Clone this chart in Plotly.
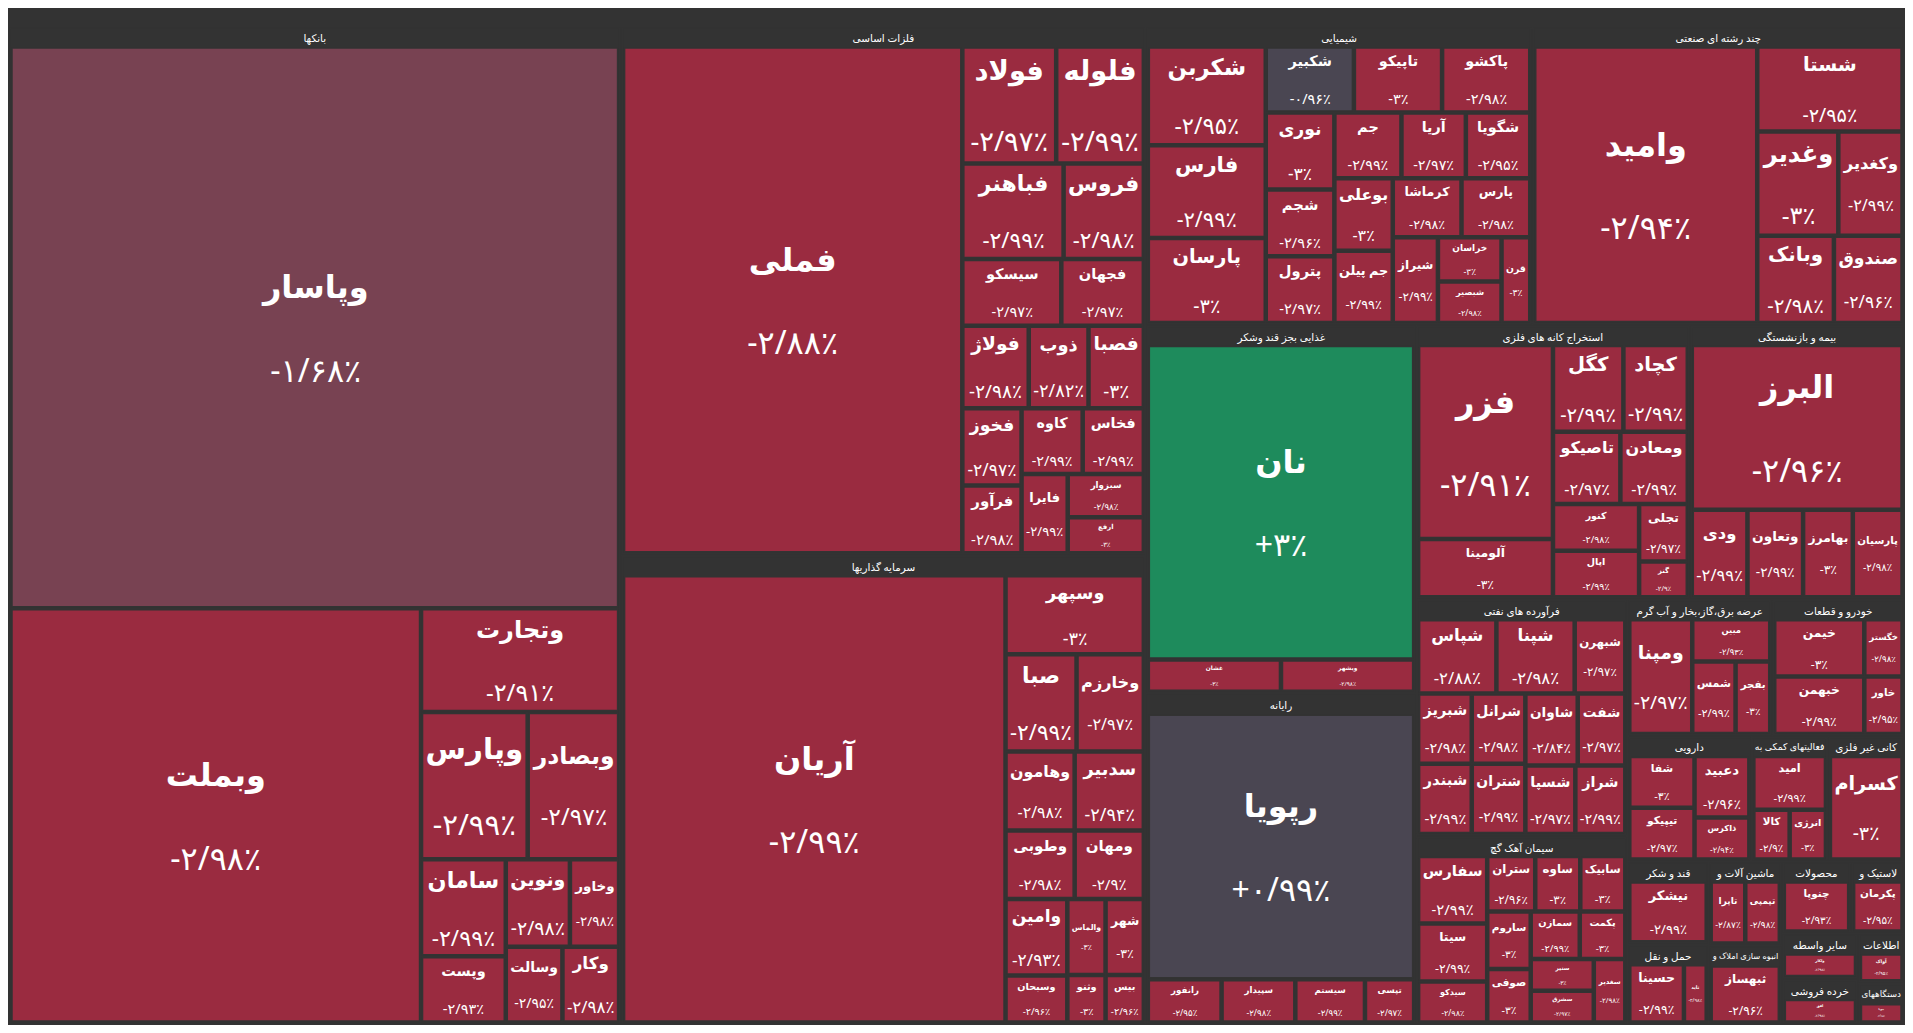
import plotly.graph_objects as go

# sector of each ticker, market size (relative), daily change %
sectors = [
    "بانکها", "فلزات اساسی", "سرمایه گذاریها", "چند رشته ای صنعتی", "رایانه",
    "شیمیایی", "غذایی بجز قند وشکر", "بیمه و بازنشستگی", "استخراج کانه های فلزی",
    "سیمان آهک گچ", "فرآورده های نفتی", "خودرو و قطعات", "فعالیتهای کمکی به",
    "قند و شکر", "حمل و نقل", "عرضه برق،گاز،بخار و آب گرم", "دارویی",
    "کانی غیر فلزی", "محصولات", "لاستیک و", "سایر واسطه", "انبوه سازی املاک و",
    "ماشین آلات و", "دستگاههای", "خرده فروشی", "اطلاعات",
]

tickers = [
    "وپاسار", "وبملت", "وتجارت", "وپارس", "وبصادر", "سامان", "وپست", "وخاور", "وسالت", "ونوین", "وکار",
    "فملی", "فولاد", "فلوله", "فباهنر", "فروس", "فجهان", "فولاژ", "فصبا", "فخوز", "فرآور", "کاوه", "سبزوار", "سیسکو", "فایرا", "ارفع", "ذوب", "فخاس",
    "آریان", "وسپهر", "صبا", "وخارزم", "وهامون", "سدبیر", "وطوبی", "ومهان", "وامین", "وسبحان", "والماس", "شهر", "وثنو", "بیس",
    "وامید", "شستا", "وغدیر", "وکغدیر", "وبانک", "صندوق",
    "رپویا", "رانفور", "سپیدار", "سیستم", "تپسی",
    "شکربن", "شکبیر", "شجم", "پترول", "آریا", "شگویا", "فارس", "پارسان", "تاپیکو", "کرماشا", "جم", "بوعلی", "جم پیلن", "پاکشو", "پارس", "خراسان", "شبصیر", "نوری", "شیراز", "قرن",
    "نان", "غشان", "وبشهر",
    "البرز", "ودی", "وتعاون", "بهامرز", "پارسیان",
    "فزر", "آلومینا", "کگل", "کچاد", "کنور", "اپال", "تاصیکو", "ومعادن", "تجلی", "گنز",
    "سفارس", "سیتا", "ستران", "صوفی", "سیدکو", "سمازن", "پکمت", "سنیر", "سشرق", "سغدیر", "ساوه", "سابیک", "ساروم",
    "شپاس", "شپنا", "شبهرن", "شبریز", "شبندر", "شرانل", "شتران", "شاوان", "شفت", "شسپا", "شراز",
    "خیمن", "خبهمن", "خگستر", "خاور",
    "امید", "کالا", "انرژی",
    "نیشکر",
    "حسینا", "تاید",
    "ومپنا", "مبین", "بفجر", "شمس",
    "شفا", "تیپیکو", "دعبید", "ذاکرس",
    "کسرام",
    "چنوپا",
    "پکرمان",
    "ولکار",
    "ثبهساز",
    "تاپرا", "تپمپی",
    "بپویا",
    "افق",
    "آواک",
]

ticker_sector = (
    ["بانکها"] * 11 + ["فلزات اساسی"] * 17 + ["سرمایه گذاریها"] * 14
    + ["چند رشته ای صنعتی"] * 6 + ["رایانه"] * 5 + ["شیمیایی"] * 20
    + ["غذایی بجز قند وشکر"] * 3 + ["بیمه و بازنشستگی"] * 5
    + ["استخراج کانه های فلزی"] * 10 + ["سیمان آهک گچ"] * 13
    + ["فرآورده های نفتی"] * 11 + ["خودرو و قطعات"] * 4
    + ["فعالیتهای کمکی به"] * 3 + ["قند و شکر"] + ["حمل و نقل"] * 2
    + ["عرضه برق،گاز،بخار و آب گرم"] * 4 + ["دارویی"] * 4
    + ["کانی غیر فلزی"] + ["محصولات"] + ["لاستیک و"] + ["سایر واسطه"]
    + ["انبوه سازی املاک و"] + ["ماشین آلات و"] * 2 + ["دستگاههای"]
    + ["خرده فروشی"] + ["اطلاعات"]
)

sizes = [
    183, 91, 11, 8.4, 7.2, 4.4, 3, 2.3, 2.3, 3, 2.3,
    94, 6, 5.6, 5.3, 4.2, 3, 3, 2.5, 2.5, 2.2, 2.2, 1.8, 3.6, 2, 1.5, 2.7, 2.2,
    94, 6, 3.8, 3.6, 3, 3, 2.6, 2.6, 2.6, 1.6, 1.6, 1.6, 1, 1,
    35, 7, 4.8, 3.8, 3.8, 3.4,
    40, 1.8, 1.8, 1.7, 1.2,
    6.6, 3.3, 2.6, 2.6, 2.4, 2.4, 6.2, 5.7, 3.3, 2.3, 2.5, 2.4, 2.4, 3.3, 2.3, 1.6, 1.5, 3, 2.2, 1.4,
    47, 2.4, 2.4,
    20, 2.8, 2.8, 2.5, 2.5,
    15, 4.5, 3.5, 3.2, 2.3, 2.3, 2.8, 2.8, 1.6, 1,
    2.8, 2.4, 1.6, 1.4, 1.7, 1.4, 1.3, 1.2, 1.2, 1.2, 1.5, 1.5, 1.5,
    3.4, 3.4, 2.2, 2.2, 2.2, 2.2, 2.2, 2.2, 2, 2, 2,
    3.3, 3.3, 1.4, 1.4,
    2.6, 1.2, 1.2,
    3.5,
    2.4, 1,
    4.6, 2.1, 1.6, 2,
    2.2, 2.2, 2.2, 1.5,
    5,
    2.6,
    2,
    1.8,
    3,
    1.6, 1.6,
    1,
    1.8,
    1.2,
]

changes = [
    -1.68, -2.98, -2.91, -2.99, -2.97, -2.99, -2.93, -2.98, -2.95, -2.98, -2.98,
    -2.88, -2.97, -2.99, -2.99, -2.98, -2.97, -2.98, -3, -2.97, -2.98, -2.99, -2.98, -2.97, -2.99, -3, -2.82, -2.99,
    -2.99, -3, -2.99, -2.97, -2.98, -2.94, -2.98, -2.90, -2.93, -2.96, -3, -3, -3, -2.96,
    -2.94, -2.95, -3, -2.99, -2.98, -2.96,
    0.99, -2.95, -2.98, -2.99, -2.97,
    -2.95, -0.96, -2.96, -2.97, -2.97, -2.95, -2.99, -3, -3, -2.98, -2.99, -3, -2.99, -2.98, -2.98, -3, -2.98, -3, -2.99, -3,
    3, -3, -2.98,
    -2.96, -2.99, -2.99, -3, -2.98,
    -2.91, -3, -2.99, -2.99, -2.98, -2.99, -2.97, -2.99, -2.97, -2.9,
    -2.99, -2.99, -2.96, -3, -2.98, -2.99, -3, -3, -2.97, -2.98, -3, -3, -3,
    -2.88, -2.98, -2.97, -2.98, -2.99, -2.98, -2.99, -2.84, -2.97, -2.97, -2.99,
    -3, -2.99, -2.98, -2.95,
    -2.99, -2.90, -3,
    -2.99,
    -2.99, -2.98,
    -2.97, -2.93, -3, -2.99,
    -3, -2.97, -2.96, -2.94,
    -3,
    -2.93,
    -2.95,
    -2.98,
    -2.96,
    -2.87, -2.98,
    -2.98,
    -2.98,
    -2.95,
]

FA = str.maketrans("0123456789", "۰۱۲۳۴۵۶۷۸۹")


def fmt(v):
    s = ("%.2f" % abs(v)).rstrip("0").rstrip(".").replace(".", "/")
    return ("+" if v > 0 else "-") + s.translate(FA) + "٪"


def mix(a, b, t):
    a = [int(a[i:i + 2], 16) for i in (1, 3, 5)]
    b = [int(b[i:i + 2], 16) for i in (1, 3, 5)]
    return "#%02x%02x%02x" % tuple(int(x + (y - x) * t) for x, y in zip(a, b))


def color(v):
    if v >= 2.5:
        return "#1e8b5c"
    if v >= 1.5:
        return mix("#4a4650", "#1e8b5c", (v - 1.5))
    if v > -1:
        return "#4a4652"
    if v > -2.5:
        return mix("#784252", "#9a2b40", (-v - 1.68) / 0.82)
    return "#9a2b40"


ids = sectors + tickers
labels = sectors + tickers
parents = [""] * len(sectors) + ticker_sector
values = [0] * len(sectors) + sizes
colors = ["#333333"] * len(sectors) + [color(c) for c in changes]
texts = [""] * len(sectors) + [fmt(c) for c in changes]

fig = go.Figure(go.Treemap(
    ids=ids,
    labels=labels,
    parents=parents,
    values=values,
    text=texts,
    branchvalues="remainder",
    texttemplate="<b>%{label}</b><br><br>%{text}",
    textposition="middle center",
    textfont=dict(family="Noto Sans, DejaVu Sans", size=32, color="white"),
    insidetextfont=dict(size=32),
    outsidetextfont=dict(size=13, color="white"),
    marker=dict(colors=colors, line=dict(color="#333333", width=1.5),
                pad=dict(t=20, l=2, r=2, b=2)),
    tiling=dict(pad=3),
    pathbar=dict(visible=False),
    hoverinfo="label+text",
))

fig.update_layout(
    margin=dict(l=0, r=0, t=0, b=0),
    paper_bgcolor="#333333",
    plot_bgcolor="#333333",
    uniformtext=dict(minsize=6),
)

fig.write_html("out.html")
